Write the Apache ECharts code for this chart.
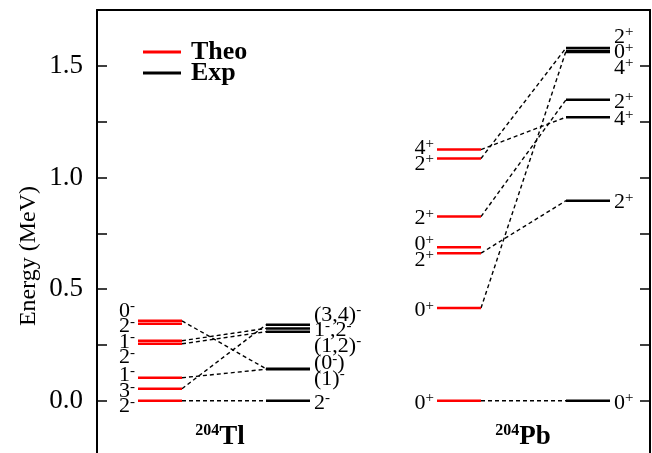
<!DOCTYPE html>
<html>
<head>
<meta charset="utf-8">
<script src="https://cdn.jsdelivr.net/npm/echarts@6/dist/echarts.min.js"></script>
<style>
html, body { margin: 0; padding: 0; background: #fff; }
#main { width: 652px; height: 453px; }
</style>
</head>
<body>
<div id="main"></div>
<script>
var tlTheoE = [0, 0.054, 0.103, 0.255, 0.269, 0.345, 0.358];
var tlTheoJ = ['2-', '3-', '1-', '2-', '1-', '2-', '0-'];
var tlExpE = [0, 0.141, 0.143, 0.309, 0.324, 0.340];
var tlExpJ = ['2-', '(1)-', '(0-)', '(1,2)-', '1-,2-', '(3,4)-'];
// [theo index, exp index]
var tlLinks = [[0, 0], [1, 5], [2, 1], [6, 2], [3, 3], [4, 4]];

var pbTheoE = [0, 0.415, 0.661, 0.688, 0.825, 1.085, 1.125];
var pbTheoJ = ['0+', '0+', '2+', '0+', '2+', '2+', '4+'];
var pbExpE = [0, 0.896, 1.270, 1.348, 1.562, 1.566, 1.580];
var pbExpJ = ['0+', '2+', '4+', '2+', '4+', '0+', '2+'];
var pbLinks = [[0, 0], [1, 5], [2, 1], [4, 3], [5, 6], [6, 2]];

var yTicks = [0, 0.25, 0.5, 0.75, 1.0, 1.25, 1.5];
var yLabels = [0, 0.5, 1.0, 1.5];

var FONT = 'Liberation Serif';
var LEVEL_W = 44;
var LABEL_GAP = 15.5;
var LABEL_SHIFT = 2;
var COL = { tlTheo: 41, tlExp: 169, pbTheo: 340, pbExp: 469 };

var myChart = echarts.init(document.getElementById('main'));

var RICH = {
    b: { fontFamily: FONT, fontSize: 22, color: '#000', lineHeight: 24 },
    s: { fontFamily: FONT, fontSize: 15, color: '#000', verticalAlign: 'top', lineHeight: 24 }
};

// turn '1-,2-' into rich text with superscript parities
function richJ(j) {
    var out = '';
    var buf = '';
    for (var i = 0; i < j.length; i++) {
        var c = j.charAt(i);
        if (c === '-' || c === '+') {
            if (buf) out += '{b|' + buf + '}';
            buf = '';
            out += '{s|' + c + '}';
        } else {
            buf += c;
        }
    }
    if (buf) out += '{b|' + buf + '}';
    return out;
}

// push labels apart, groups centred on their levels
function spread(ys, gap) {
    var idx = ys.map(function (y, i) { return i; });
    idx.sort(function (a, b) { return ys[a] - ys[b]; });
    var groups = [];
    idx.forEach(function (i) {
        groups.push({ ids: [i], top: ys[i] });
        while (groups.length > 1) {
            var g2 = groups[groups.length - 1];
            var g1 = groups[groups.length - 2];
            if (g1.top + g1.ids.length * gap <= g2.top) break;
            var ids = g1.ids.concat(g2.ids);
            var mean = 0;
            ids.forEach(function (k) { mean += ys[k]; });
            mean /= ids.length;
            groups.pop();
            groups[groups.length - 1] = { ids: ids, top: mean - (ids.length - 1) * gap / 2 };
        }
    });
    var res = [];
    groups.forEach(function (g) {
        g.ids.forEach(function (k, n) { res[k] = g.top + n * gap; });
    });
    return res;
}

function levelSeries(name, energies, spins, x0, side, color) {
    return {
        type: 'custom',
        name: name,
        coordinateSystem: 'cartesian2d',
        silent: true,
        itemStyle: { color: color },
        data: energies.map(function (e) { return [x0, e]; }),
        encode: { x: 0, y: 1 },
        renderItem: function (params, api) {
            var i = params.dataIndex;
            var p1 = api.coord([x0, energies[i]]);
            var p2 = api.coord([x0 + LEVEL_W, energies[i]]);
            var ys = energies.map(function (e) { return api.coord([x0, e])[1]; });
            var ly = spread(ys, LABEL_GAP)[i] + LABEL_SHIFT;
            return {
                type: 'group',
                children: [{
                    type: 'line',
                    shape: { x1: p1[0], y1: p1[1], x2: p2[0], y2: p2[1] },
                    style: { stroke: color, lineWidth: 2.5 }
                }, {
                    type: 'text',
                    x: side === 'left' ? p1[0] - 3 : p2[0] + 4,
                    y: ly,
                    style: {
                        text: richJ(spins[i]),
                        rich: RICH,
                        align: side === 'left' ? 'right' : 'left',
                        verticalAlign: 'middle'
                    }
                }]
            };
        }
    };
}

function linkSeries(links, theoE, expE, xTheo, xExp) {
    return {
        type: 'custom',
        coordinateSystem: 'cartesian2d',
        silent: true,
        data: links.map(function (l) { return [xTheo + LEVEL_W, theoE[l[0]], xExp, expE[l[1]]]; }),
        encode: { x: [0, 2], y: [1, 3] },
        renderItem: function (params, api) {
            var a = api.coord([api.value(0), api.value(1)]);
            var b = api.coord([api.value(2), api.value(3)]);
            return {
                type: 'line',
                shape: { x1: a[0], y1: a[1], x2: b[0], y2: b[1] },
                style: { stroke: '#000', lineWidth: 1.4, lineDash: [4, 3] }
            };
        }
    };
}

var nucRich = {
    s: { fontFamily: FONT, fontSize: 16, fontWeight: 'bold', color: '#000', verticalAlign: 'top', lineHeight: 28 },
    b: { fontFamily: FONT, fontSize: 27, fontWeight: 'bold', color: '#000', lineHeight: 28 }
};

var sideAxis = {
    type: 'value', min: -0.234, max: 1.75,
    axisLine: { show: true, lineStyle: { color: '#000', width: 2 } },
    axisTick: { inside: true, length: 10, customValues: yTicks, lineStyle: { color: '#000', width: 1.5 } },
    splitLine: { show: false }
};

option = {
    animation: false,
    grid: { left: 97, right: 2, top: 10, bottom: 0 },
    legend: {
        data: ['Theo', 'Exp'],
        orient: 'vertical',
        left: 138,
        top: 34,
        icon: 'rect',
        itemWidth: 38,
        itemHeight: 3,
        itemGap: -5,
        textStyle: {
            fontFamily: FONT, fontWeight: 'bold', fontSize: 26, color: '#000',
            padding: [0, 0, 0, 5]
        }
    },
    xAxis: {
        type: 'value', min: 0, max: 553, position: 'top',
        axisLine: { show: true, onZero: false, lineStyle: { color: '#000', width: 2 } },
        axisTick: { show: false },
        axisLabel: { show: false },
        splitLine: { show: false }
    },
    yAxis: [
        echarts.util.merge({
            axisLabel: {
                margin: 14, fontFamily: FONT, fontSize: 27, color: '#000',
                customValues: yLabels,
                formatter: function (v) { return v.toFixed(1); }
            }
        }, sideAxis),
        echarts.util.merge({ position: 'right', axisLabel: { show: false } }, sideAxis)
    ],
    graphic: [{
        type: 'text', x: 29, y: 256, rotation: Math.PI / 2,
        style: { text: 'Energy (MeV)', fontFamily: FONT, fontSize: 24, fill: '#000', align: 'center', verticalAlign: 'middle' }
    }, {
        type: 'text', x: 220, y: 437,
        style: { text: '{s|204}{b|Tl}', rich: nucRich, align: 'center', verticalAlign: 'middle' }
    }, {
        type: 'text', x: 523, y: 437,
        style: { text: '{s|204}{b|Pb}', rich: nucRich, align: 'center', verticalAlign: 'middle' }
    }],
    series: [
        linkSeries(tlLinks, tlTheoE, tlExpE, COL.tlTheo, COL.tlExp),
        linkSeries(pbLinks, pbTheoE, pbExpE, COL.pbTheo, COL.pbExp),
        levelSeries('Theo', tlTheoE, tlTheoJ, COL.tlTheo, 'left', '#ff0000'),
        levelSeries('Exp', tlExpE, tlExpJ, COL.tlExp, 'right', '#000000'),
        levelSeries('Theo', pbTheoE, pbTheoJ, COL.pbTheo, 'left', '#ff0000'),
        levelSeries('Exp', pbExpE, pbExpJ, COL.pbExp, 'right', '#000000')
    ]
};

myChart.setOption(option);
</script>
</body>
</html>
